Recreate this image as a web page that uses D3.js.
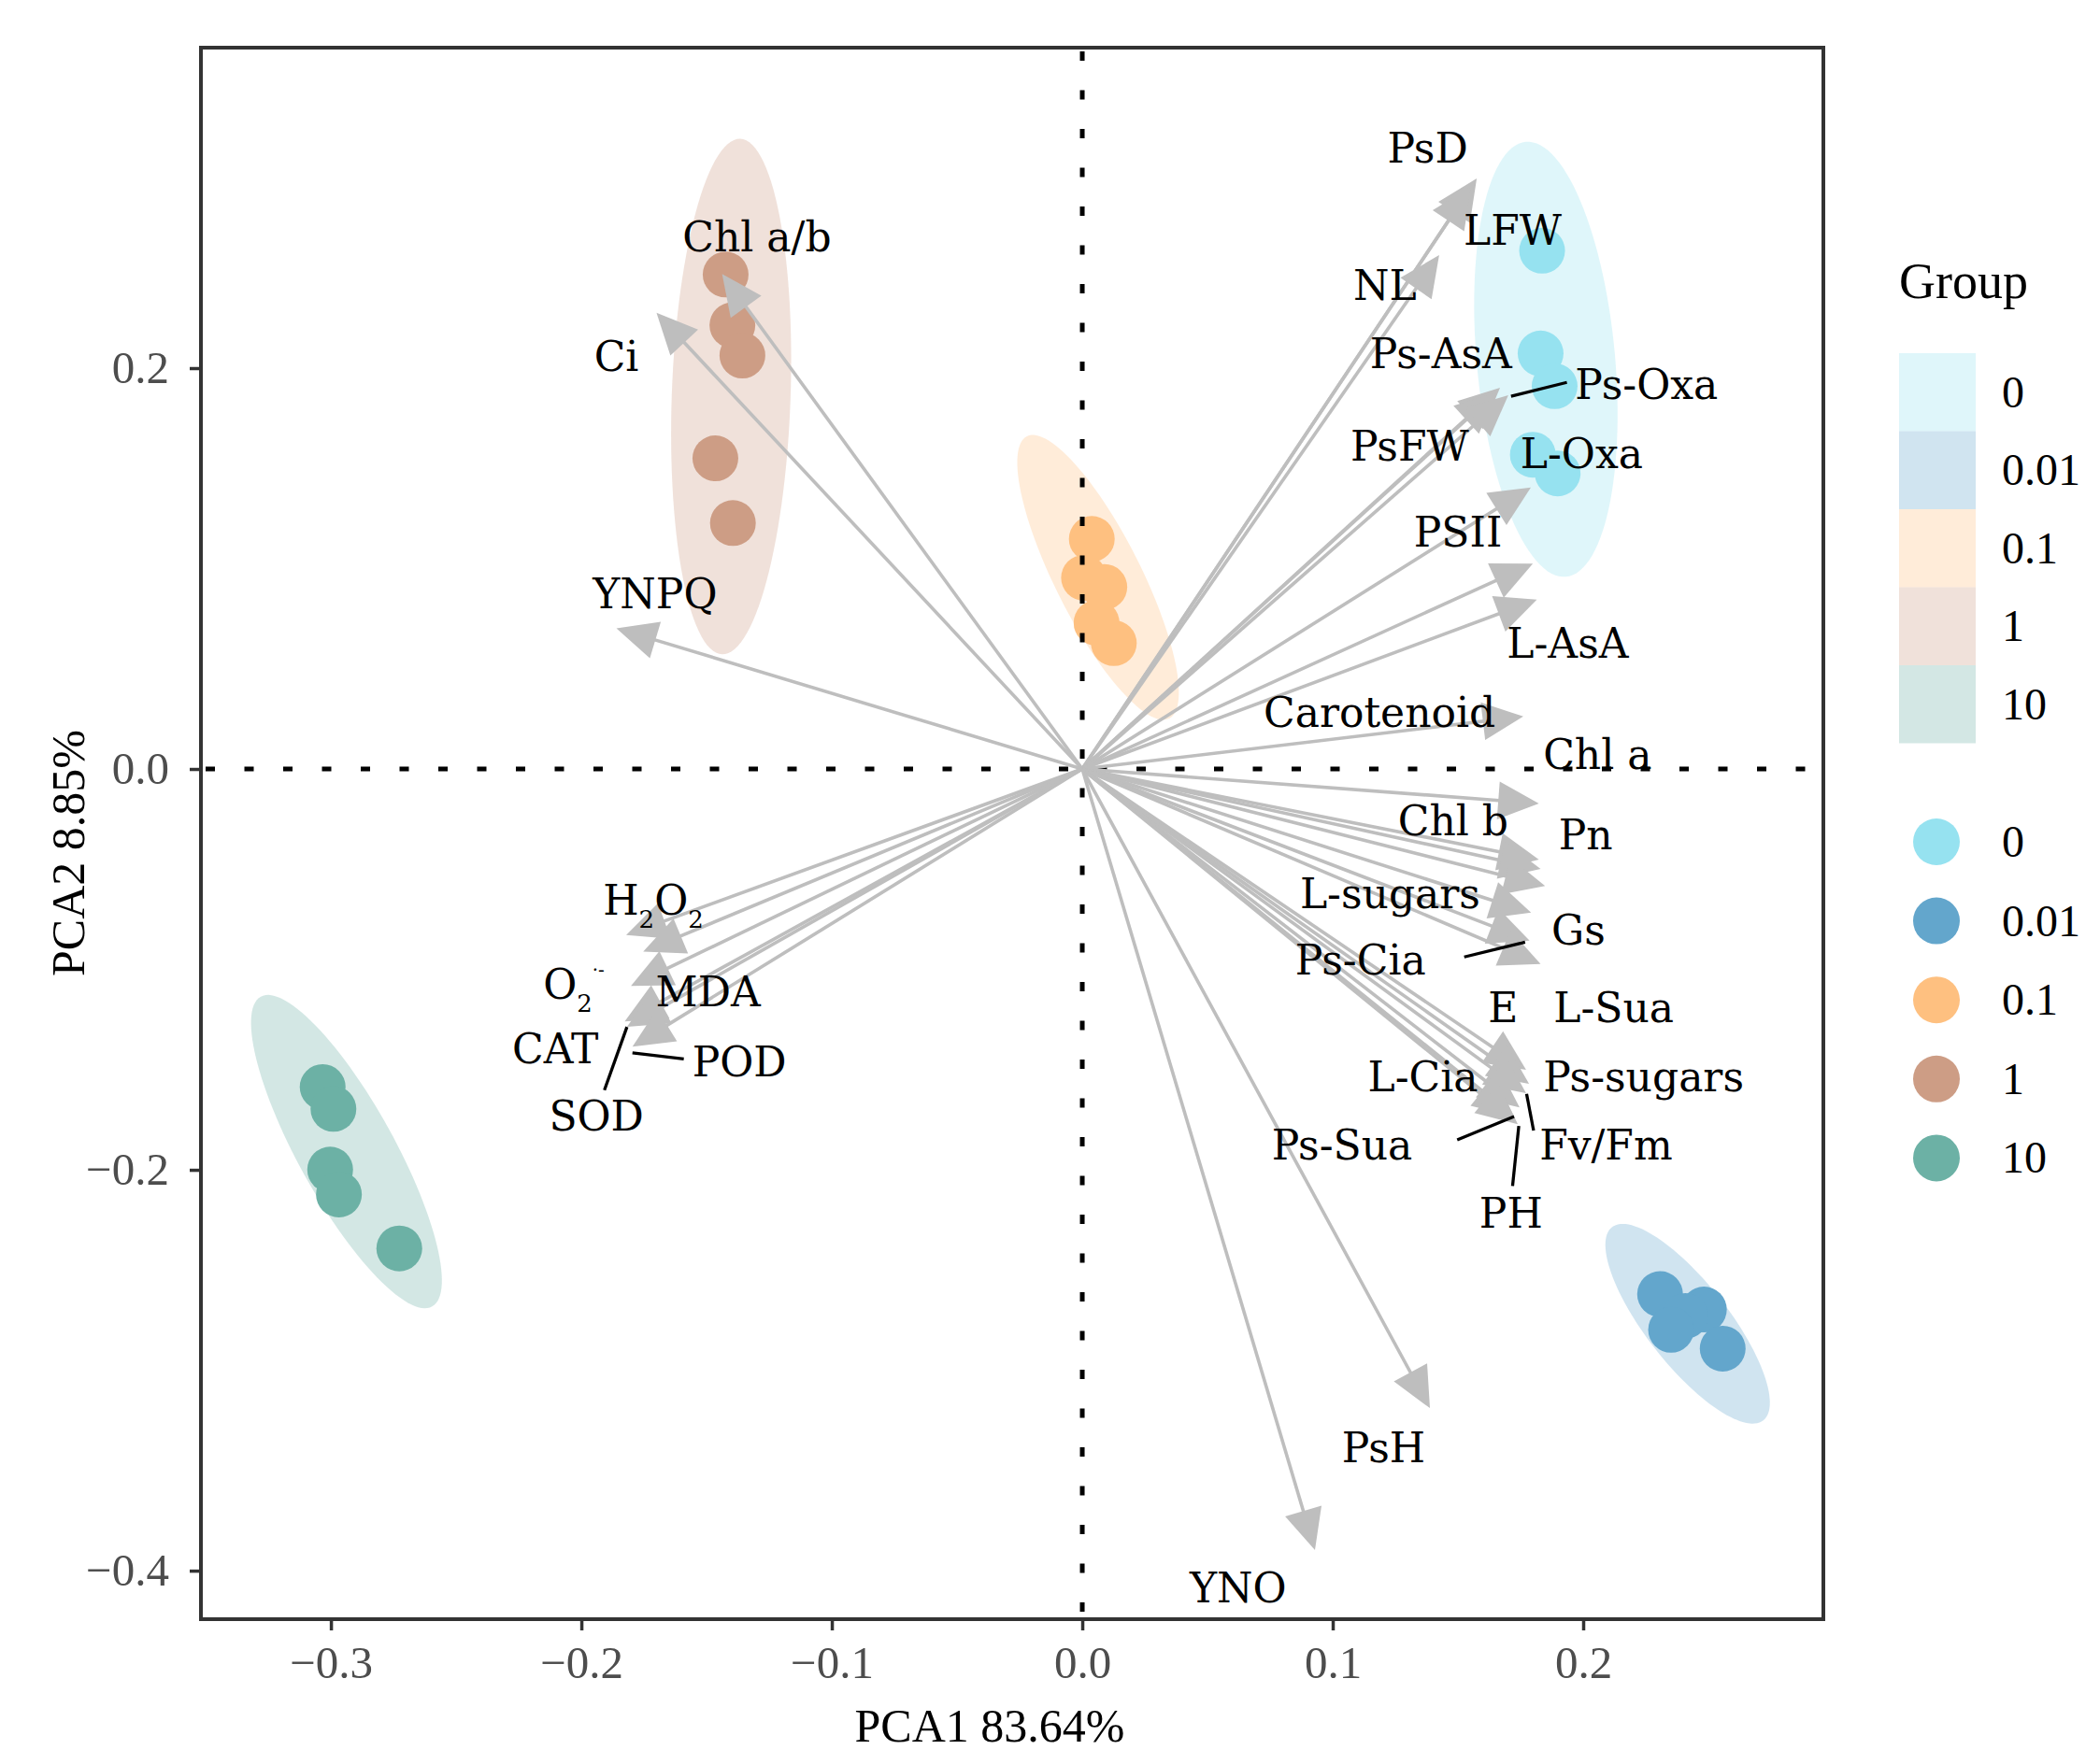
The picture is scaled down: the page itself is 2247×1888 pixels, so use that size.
<!DOCTYPE html>
<html>
<head>
<meta charset="utf-8">
<script src="https://cdn.jsdelivr.net/npm/d3@7"></script>
<style>
  body { margin: 0; background: #fff; }
</style>
</head>
<body>
<script>
const W = 2247, H = 1888;

const groups = ["0", "0.01", "0.1", "1", "10"];
const groupColors = ["#96E2F0", "#63A6CC", "#FEC080", "#CD9D85", "#6CB1A5"];

// sample scores: [group, PC1, PC2]
const scores = [
  ["0", 0.1836, 0.2586], ["0", 0.1830, 0.2073], ["0", 0.1886, 0.1910], ["0", 0.1799, 0.1568], ["0", 0.1898, 0.1475],
  ["0.01", 0.2307, -0.2620], ["0.01", 0.2482, -0.2697], ["0.01", 0.2408, -0.2729], ["0.01", 0.2351, -0.2798], ["0.01", 0.2557, -0.2892],
  ["0.1", 0.0038, 0.1148], ["0.1", 0.0007, 0.0954], ["0.1", 0.0088, 0.0908], ["0.1", 0.0057, 0.0729], ["0.1", 0.0126, 0.0628],
  ["1", -0.1424, 0.2467], ["1", -0.1397, 0.2214], ["1", -0.1357, 0.2063], ["1", -0.1465, 0.1550], ["1", -0.1395, 0.1227],
  ["10", -0.3033, -0.1587], ["10", -0.2990, -0.1696], ["10", -0.3003, -0.1999], ["10", -0.2968, -0.2123], ["10", -0.2727, -0.2392]
];

// group ellipses: [group, centre PC1, centre PC2, axis1 dPC1, axis1 dPC2, axis2 dPC1, axis2 dPC2]
const ellipses = [
  ["0", 0.1851, 0.2044, -0.0080, 0.1085, 0.0275, 0.0032],
  ["0.01", 0.2417, -0.2768, 0.0302, -0.0482, 0.0129, 0.0126],
  ["0.1", 0.0063, 0.0956, 0.0284, -0.0704, 0.0153, 0.0097],
  ["1", -0.1402, 0.1858, 0.0036, 0.1286, 0.0237, -0.0010],
  ["10", -0.2938, -0.1909, 0.0342, -0.0773, 0.0168, 0.0116]
];

// variable loadings (arrow tips): [name, PC1, PC2]
const loadings = [
  ["Chl a/b", -0.1438, 0.2470], ["Ci", -0.1700, 0.2276], ["YNPQ", -0.1860, 0.0702],
  ["H_{2}O_{2}", -0.1821, -0.0828], ["MDA", -0.1753, -0.0911], ["O_{2}^{·-}", -0.1802, -0.1082],
  ["CAT", -0.1827, -0.1260], ["SOD", -0.1818, -0.1287], ["POD", -0.1796, -0.1385],
  ["PsD", 0.1575, 0.2946], ["LFW", 0.1552, 0.2904], ["NL", 0.1425, 0.2564],
  ["Ps-AsA", 0.1668, 0.1902], ["PsFW", 0.1653, 0.1879], ["Ps-Oxa", 0.1701, 0.1865],
  ["L-Oxa", 0.1791, 0.1405], ["PSII", 0.1799, 0.1024], ["L-AsA", 0.1815, 0.0845],
  ["Carotenoid", 0.1761, 0.0262], ["Chl a", 0.1823, -0.0172], ["Chl b", 0.1823, -0.0452],
  ["Pn", 0.1830, -0.0499], ["L-sugars", 0.1848, -0.0584], ["Gs", 0.1792, -0.0717],
  ["Ps-Cia", 0.1786, -0.0856], ["E", 0.1830, -0.0973], ["L-Sua", 0.1772, -0.1501],
  ["Ps-sugars", 0.1784, -0.1571], ["Fv/Fm", 0.1772, -0.1618], ["L-Cia", 0.1746, -0.1688],
  ["Ps-Sua", 0.1724, -0.1734], ["PH", 0.1739, -0.1772], ["PsH", 0.1388, -0.3189],
  ["YNO", 0.0929, -0.3897]
];

// repelled label centres: [name, PC1, PC2]
const labelPos = [
  ["Chl a/b", -0.1299, 0.2658], ["Ci", -0.1860, 0.2062], ["YNPQ", -0.1706, 0.0876],
  ["H_{2}O_{2}", -0.1713, -0.0653], ["MDA", -0.1494, -0.1112], ["O_{2}^{·-}", -0.2030, -0.1072],
  ["CAT", -0.2104, -0.1393], ["SOD", -0.1940, -0.1730], ["POD", -0.1369, -0.1458],
  ["PsD", 0.1379, 0.3099], ["LFW", 0.1718, 0.2687], ["NL", 0.1208, 0.2415],
  ["Ps-AsA", 0.1432, 0.2073], ["PsFW", 0.1307, 0.1614], ["Ps-Oxa", 0.2253, 0.1922],
  ["L-Oxa", 0.1994, 0.1576], ["PSII", 0.1500, 0.1184], ["L-AsA", 0.1938, 0.0628],
  ["Carotenoid", 0.1187, 0.0286], ["Chl a", 0.2057, 0.0076], ["Chl b", 0.1481, -0.0258],
  ["Pn", 0.2010, -0.0328], ["L-sugars", 0.1229, -0.0620], ["Gs", 0.1981, -0.0802],
  ["Ps-Cia", 0.1111, -0.0950], ["E", 0.1680, -0.1190], ["L-Sua", 0.2122, -0.1190],
  ["Ps-sugars", 0.2241, -0.1532], ["Fv/Fm", 0.2091, -0.1874], ["L-Cia", 0.1360, -0.1532],
  ["Ps-Sua", 0.1037, -0.1874], ["PH", 0.1712, -0.2216], ["PsH", 0.1203, -0.3385],
  ["YNO", 0.0622, -0.4086]
];

// label leader segments: [name, PC1 start, PC2 start, PC1 end, PC2 end]
const leaders = [
  ["Ps-Oxa", 0.1712, 0.1860, 0.1935, 0.1929],
  ["Ps-Cia", 0.1768, -0.0864, 0.1525, -0.0938],
  ["Ps-Sua", 0.1724, -0.1734, 0.1497, -0.1851],
  ["PH", 0.1743, -0.1781, 0.1718, -0.2081],
  ["Fv/Fm", 0.1774, -0.1621, 0.1802, -0.1804],
  ["SOD", -0.1818, -0.1287, -0.1908, -0.1602],
  ["POD", -0.1796, -0.1416, -0.1591, -0.1447]
];

const xTicks = [-0.3, -0.2, -0.1, 0, 0.1, 0.2];
const yTicks = [-0.4, -0.2, 0, 0.2];
const xTitle = "PCA1 83.64%";
const yTitle = "PCA2 8.85%";
const legendTitle = "Group";

const svg = d3.select("body").append("svg")
    .attr("width", W)
    .attr("height", H);

const x = d3.scaleLinear().domain([-0.3519, 0.2959]).range([215, 1951]);
const y = d3.scaleLinear().domain([-0.4242, 0.3599]).range([1733, 51]);
const color = d3.scaleOrdinal().domain(groups).range(groupColors);

const labelFont = "'DejaVu Serif', serif";
const axisFont = "'Liberation Serif', serif";

// ellipses
const ellLine = d3.line().curve(d3.curveLinearClosed);
svg.selectAll("path.ellipse")
    .data(ellipses)
    .enter()
    .append("path")
    .attr("class", "ellipse")
    .attr("d", function (e) {
        const pts = d3.range(120).map(function (i) {
            const t = i / 120 * 2 * Math.PI;
            return [x(e[1] + Math.cos(t) * e[3] + Math.sin(t) * e[5]),
                    y(e[2] + Math.cos(t) * e[4] + Math.sin(t) * e[6])];
        });
        return ellLine(pts);
    })
    .style("fill", e => color(e[0]))
    .style("fill-opacity", 0.3)
    .style("stroke", "none");

// points
svg.selectAll("circle.score")
    .data(scores)
    .enter()
    .append("circle")
    .attr("class", "score")
    .attr("cx", d => x(d[1]))
    .attr("cy", d => y(d[2]))
    .attr("r", 24.5)
    .style("fill", d => color(d[0]));

// zero lines
svg.append("line")
    .attr("x1", x(0)).attr("x2", x(0))
    .attr("y1", 55).attr("y2", 1730)
    .style("stroke", "#000")
    .style("stroke-width", 5)
    .style("stroke-dasharray", "10 31.5");
svg.append("line")
    .attr("x1", 220).attr("x2", 1948)
    .attr("y1", y(0)).attr("y2", y(0))
    .style("stroke", "#000")
    .style("stroke-width", 5)
    .style("stroke-dasharray", "10 31.5");

// loading arrows
const ox = x(0), oy = y(0);
const headLen = 48, headAng = 25 * Math.PI / 180;
const arrows = svg.append("g");
loadings.forEach(function (d) {
    const tx = x(d[1]), ty = y(d[2]);
    const a = Math.atan2(ty - oy, tx - ox);
    arrows.append("line")
        .attr("x1", ox).attr("y1", oy)
        .attr("x2", tx - 30 * Math.cos(a)).attr("y2", ty - 30 * Math.sin(a))
        .style("stroke", "#BEBEBE")
        .style("stroke-width", 3.6);
});
loadings.forEach(function (d) {
    const tx = x(d[1]), ty = y(d[2]);
    const a = Math.atan2(ty - oy, tx - ox);
    const p1 = [tx + headLen * Math.cos(a + Math.PI - headAng), ty + headLen * Math.sin(a + Math.PI - headAng)];
    const p2 = [tx + headLen * Math.cos(a + Math.PI + headAng), ty + headLen * Math.sin(a + Math.PI + headAng)];
    arrows.append("path")
        .attr("d", "M" + tx + "," + ty + "L" + p1.join(",") + "L" + p2.join(",") + "Z")
        .style("fill", "#BEBEBE");
});

// leader segments
svg.selectAll("line.leader")
    .data(leaders)
    .enter()
    .append("line")
    .attr("class", "leader")
    .attr("x1", d => x(d[1])).attr("y1", d => y(d[2]))
    .attr("x2", d => x(d[3])).attr("y2", d => y(d[4]))
    .style("stroke", "#000")
    .style("stroke-width", 3.3);

// labels with sub/superscripts
function parts(s) {
    const out = [];
    const re = /([_^])\{([^}]*)\}|([^_^]+)/g;
    let m;
    while ((m = re.exec(s))) {
        if (m[3]) out.push({ t: m[3], k: "" });
        else out.push({ t: m[2], k: m[1] });
    }
    return out;
}

const labelSize = 44;
labelPos.forEach(function (d) {
    const t = svg.append("text")
        .attr("x", x(d[1]))
        .attr("y", y(d[2]) + 0.36 * labelSize)
        .attr("text-anchor", "middle")
        .style("font-family", labelFont)
        .style("font-size", labelSize + "px")
        .style("fill", "#000");
    let shift = 0;
    parts(d[0]).forEach(function (p) {
        let target = 0, size = labelSize;
        if (p.k === "_") { target = 14; size = 26; }
        if (p.k === "^") { target = -24; size = 20; }
        t.append("tspan")
            .attr("dy", target - shift)
            .style("font-size", size + "px")
            .text(p.t);
        shift = target;
    });
});

// panel border
svg.append("rect")
    .attr("x", 215).attr("y", 51)
    .attr("width", 1951 - 215).attr("height", 1733 - 51)
    .style("fill", "none")
    .style("stroke", "#333")
    .style("stroke-width", 4);

// axes
const fmt = d3.format(".1f");
const xAxis = svg.append("g")
    .attr("transform", "translate(0,1733)")
    .call(d3.axisBottom(x).tickValues(xTicks).tickFormat(fmt).tickSize(12).tickPadding(16));
const yAxis = svg.append("g")
    .attr("transform", "translate(215,0)")
    .call(d3.axisLeft(y).tickValues(yTicks).tickFormat(fmt).tickSize(12).tickPadding(22));
[xAxis, yAxis].forEach(function (g) {
    g.select(".domain").remove();
    g.selectAll(".tick line").style("stroke", "#333").style("stroke-width", 3.5);
    g.selectAll(".tick text")
        .style("font-family", axisFont)
        .style("font-size", "49px")
        .style("fill", "#4D4D4D");
});

svg.append("text")
    .attr("x", 1059).attr("y", 1864)
    .attr("text-anchor", "middle")
    .style("font-family", axisFont)
    .style("font-size", "50px")
    .style("fill", "#000")
    .text(xTitle);
svg.append("text")
    .attr("transform", "translate(90,913) rotate(-90)")
    .attr("text-anchor", "middle")
    .style("font-family", axisFont)
    .style("font-size", "50px")
    .style("fill", "#000")
    .text(yTitle);

// legend
const legend = svg.append("g");
legend.append("text")
    .attr("x", 2032).attr("y", 319)
    .style("font-family", axisFont)
    .style("font-size", "54px")
    .style("fill", "#000")
    .text(legendTitle);

const keyH = 83.5;
legend.selectAll("rect.key")
    .data(groups)
    .enter()
    .append("rect")
    .attr("class", "key")
    .attr("x", 2032)
    .attr("y", (d, i) => 378 + i * keyH)
    .attr("width", 82)
    .attr("height", keyH)
    .style("fill", d => color(d))
    .style("fill-opacity", 0.3);
legend.selectAll("text.keyfill")
    .data(groups)
    .enter()
    .append("text")
    .attr("class", "keyfill")
    .attr("x", 2142)
    .attr("y", (d, i) => 378 + (i + 0.5) * keyH + 16)
    .style("font-family", axisFont)
    .style("font-size", "48px")
    .style("fill", "#000")
    .text(d => d);

legend.selectAll("circle.key")
    .data(groups)
    .enter()
    .append("circle")
    .attr("class", "key")
    .attr("cx", 2072)
    .attr("cy", (d, i) => 901 + i * 84.6)
    .attr("r", 25)
    .style("fill", d => color(d));
legend.selectAll("text.keypt")
    .data(groups)
    .enter()
    .append("text")
    .attr("class", "keypt")
    .attr("x", 2142)
    .attr("y", (d, i) => 901 + i * 84.6 + 16)
    .style("font-family", axisFont)
    .style("font-size", "48px")
    .style("fill", "#000")
    .text(d => d);
</script>
</body>
</html>
